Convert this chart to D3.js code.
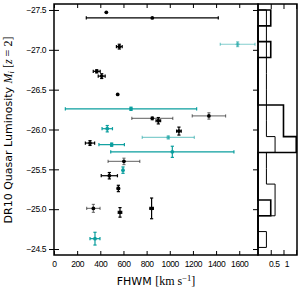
<!doctype html>
<html>
<head>
<meta charset="utf-8">
<script src="https://cdn.jsdelivr.net/npm/d3@7"></script>
<style>
  body { margin: 0; background: #fff; }
  svg { display: block; font-family: "DejaVu Sans", sans-serif; }
  .ax text { font-size: 8.5px; letter-spacing: -0.4px; fill: #000; }
  .ax line { stroke: #000; stroke-width: 1; }
  .ax path { display: none; }
  .math { font-family: "Liberation Serif", serif; }
</style>
</head>
<body>
<svg width="302" height="293"></svg>
<script>
// one entry per quasar
var fwhm    = [452, 849, 564, 369, 412, 550, 665, 849, 901, 1338, 1079, 460, 311, 498, 987, 1022, 604, 596, 478, 556, 340, 570, 843, 354, 1586];
var fwhmErr = [0, 570, 25, 30, 30, 0, 567, 177, 20, 144, 20, 45, 40, 110, 225, 532, 137, 0, 70, 10, 58, 15, 15, 43, 150];
var mag     = [-27.47, -27.40, -27.04, -26.73, -26.67, -26.44, -26.26, -26.14, -26.11, -26.17, -25.98, -26.01, -25.83, -25.81, -25.90, -25.72, -25.60, -25.49, -25.42, -25.26, -25.01, -24.96, -25.01, -24.63, -27.07];
var magErr  = [0, 0, 0.03, 0.02, 0.03, 0, 0.02, 0.02, 0.04, 0.04, 0.05, 0.04, 0.03, 0.02, 0.02, 0.07, 0.04, 0.04, 0.04, 0.04, 0.05, 0.06, 0.13, 0.08, 0.03];
var sample  = ["k","k","k","k","k","k","c","k","k","k","k","c","k","c","c","c","k","c","k","k","k","k","k","c","c"];
var grade   = [1, 1, 1, 1, 1, 1, 1, 2, 1, 2, 1, 1, 1, 1, 2, 1, 2, 1, 1, 1, 2, 1, 1, 1, 2];

// side histogram in magnitude
var binEdges  = [-27.5, -27.301, -27.103, -26.904, -26.705, -26.507, -26.308, -26.109, -25.911, -25.712, -25.513, -25.315, -25.116, -24.917, -24.719, -24.52];
var histThick = [0.5, 0, 0.5, 0, 0, 0, 1, 1, 1.5, 0, 0, 0, 0.5, 0, 0];
var histThin  = [0.33, 0.33, 0.33, 0.33, 0.33, 0.33, 0.33, 0.33, 0.67, 0.33, 0.33, 0.67, 0.67, 0, 0.33];

var xTicks = [0, 200, 400, 600, 800, 1000, 1200, 1400, 1600];
var yTicks = [-27.5, -27.0, -26.5, -26.0, -25.5, -25.0, -24.5];
var hTicks = [0.5, 1, 1.5];

var svg = d3.select("svg");
var pL = 54, pR = 258, pT = 4, pB = 255, hR = 297;

var x = d3.scaleLinear().domain([0, 1762]).range([pL, pR]);
var y = d3.scaleLinear().domain([-27.575, -24.425]).range([pT, pB]);
var hx = d3.scaleLinear().domain([0, 1.53]).range([pR, hR]);
var color = d3.scaleOrdinal().domain(["k", "c"]).range(["#000000", "#0a9e9e"]);
var alpha = d3.scaleOrdinal().domain([1, 2]).range([1, 0.5]);

var data = fwhm.map(function(f, i) {
    return { f: f, fe: fwhmErr[i], m: mag[i], me: magErr[i], s: sample[i], g: grade[i] };
});

// axes
svg.append("g").attr("class", "ax")
   .attr("transform", "translate(" + pL + ",0)")
   .call(d3.axisLeft(y).tickValues(yTicks).tickSize(5).tickPadding(3).tickFormat(d3.format(".1f")));
svg.append("g").attr("class", "ax")
   .attr("transform", "translate(" + pL + ",0)")
   .call(d3.axisRight(y).tickValues(yTicks).tickSize(5).tickFormat(""));
svg.append("g").attr("class", "ax")
   .attr("transform", "translate(" + pR + ",0)")
   .call(d3.axisLeft(y).tickValues(yTicks).tickSize(5).tickFormat(""));
svg.append("g").attr("class", "ax")
   .attr("transform", "translate(0," + pB + ")")
   .call(d3.axisTop(x).tickValues(xTicks).tickSize(4).tickFormat(""));
svg.append("g").attr("class", "ax")
   .attr("transform", "translate(0," + pB + ")")
   .call(d3.axisBottom(x).tickValues(xTicks).tickSize(0).tickPadding(6).tickFormat(d3.format("d")));
svg.append("g").attr("class", "ax")
   .attr("transform", "translate(0," + pT + ")")
   .call(d3.axisBottom(x).tickValues(xTicks).tickSize(4).tickFormat(""));

svg.append("g").attr("class", "ax")
   .attr("transform", "translate(0," + pB + ")")
   .call(d3.axisTop(hx).tickValues(hTicks).tickSize(5).tickFormat(""));
svg.append("g").attr("class", "ax")
   .attr("transform", "translate(3," + pB + ")")
   .call(d3.axisBottom(hx).tickValues([0.5, 1]).tickSize(0).tickPadding(6).tickFormat(function(d) { return d === 1 ? "1" : "0.5"; }));
svg.append("g").attr("class", "ax")
   .attr("transform", "translate(0," + pT + ")")
   .call(d3.axisBottom(hx).tickValues(hTicks).tickSize(5).tickFormat(""));

// error bars
var eb = svg.append("g").attr("fill", "none").attr("stroke-width", 1.2);
var cap = 1.6;
data.forEach(function(d) {
    var g = eb.append("g").attr("stroke", color(d.s)).attr("stroke-opacity", alpha(d.g));
    var cy = y(d.m), cx = x(d.f);
    if (d.fe > 0) {
        var a = x(d.f - d.fe), b = x(d.f + d.fe);
        g.append("line").attr("x1", a).attr("x2", b).attr("y1", cy).attr("y2", cy);
        g.append("line").attr("x1", a).attr("x2", a).attr("y1", cy - cap).attr("y2", cy + cap);
        g.append("line").attr("x1", b).attr("x2", b).attr("y1", cy - cap).attr("y2", cy + cap);
    }
    if (d.me > 0) {
        var t = y(d.m - d.me), u = y(d.m + d.me);
        g.append("line").attr("x1", cx).attr("x2", cx).attr("y1", t).attr("y2", u);
        g.append("line").attr("x1", cx - cap).attr("x2", cx + cap).attr("y1", t).attr("y2", t);
        g.append("line").attr("x1", cx - cap).attr("x2", cx + cap).attr("y1", u).attr("y2", u);
    }
});

svg.append("g").selectAll("circle")
   .data(data)
   .enter().append("circle")
   .attr("cx", function(d) { return x(d.f); })
   .attr("cy", function(d) { return y(d.m); })
   .attr("r", 1.9)
   .attr("fill", function(d) { return color(d.s); })
   .attr("fill-opacity", function(d) { return d.s === "c" ? alpha(d.g) : 1; });

// step histograms
function stepPath(vals) {
    var pts = [[0, binEdges[0]]];
    vals.forEach(function(v, i) {
        pts.push([v, binEdges[i]]);
        pts.push([v, binEdges[i + 1]]);
    });
    pts.push([0, binEdges[binEdges.length - 1]]);
    return d3.line().x(function(p) { return hx(p[0]); }).y(function(p) { return y(p[1]); })(pts);
}
svg.append("path").attr("d", stepPath(histThin))
   .attr("fill", "none").attr("stroke", "#000").attr("stroke-width", 1);
svg.append("path").attr("d", stepPath(histThick))
   .attr("fill", "none").attr("stroke", "#000").attr("stroke-width", 1.6);

// frames
svg.append("rect").attr("x", pL).attr("y", pT).attr("width", pR - pL).attr("height", pB - pT)
   .attr("fill", "none").attr("stroke", "#000").attr("stroke-width", 1.5);
svg.append("rect").attr("x", pR).attr("y", pT).attr("width", hR - pR).attr("height", pB - pT)
   .attr("fill", "none").attr("stroke", "#000").attr("stroke-width", 1.5);

// labels
var yl = svg.append("text")
   .attr("transform", "translate(12,130) rotate(-90)")
   .attr("text-anchor", "middle")
   .attr("font-size", "11px");
yl.append("tspan").text("DR10 Quasar Luminosity ");
yl.append("tspan").attr("class", "math").attr("font-style", "italic").attr("font-size", "12px").text("M");
yl.append("tspan").attr("class", "math").attr("font-style", "italic").attr("font-size", "8.5px").attr("dy", 2).text("i");
yl.append("tspan").attr("class", "math").attr("font-size", "12px").attr("dy", -2).text(" [");
yl.append("tspan").attr("class", "math").attr("font-style", "italic").attr("font-size", "12px").text("z");
yl.append("tspan").attr("class", "math").attr("font-size", "12px").text(" = 2]");

var xl = svg.append("text")
   .attr("x", 156).attr("y", 285)
   .attr("text-anchor", "middle")
   .attr("font-size", "11px");
xl.append("tspan").text("FHWM ");
xl.append("tspan").attr("class", "math").attr("font-size", "12px").text("[km s");
xl.append("tspan").attr("class", "math").attr("font-size", "8.5px").attr("dy", -4).text("\u22121");
xl.append("tspan").attr("class", "math").attr("font-size", "12px").attr("dy", 4).text("]");
</script>
</body>
</html>
